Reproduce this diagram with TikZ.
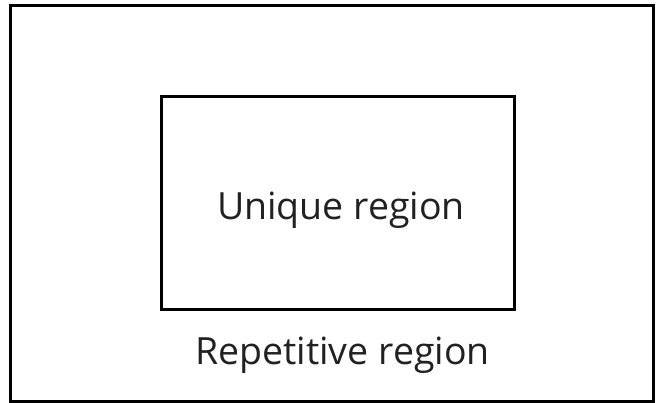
\documentclass[tikz,border=0pt]{standalone}
\usepackage{fontspec}
\setmainfont{Open Sans}
\begin{document}
\begin{tikzpicture}[x=1pt,y=-1pt,
  box/.style={draw=black,line width=3pt},
  lbl/.style={font=\fontsize{37.5}{44}\selectfont,text=black!87,inner sep=0pt,anchor=base}]
\useasboundingbox[fill=white] (0,0) rectangle (660,403);
\draw[box] (10.5,5.5) rectangle (653.5,401);
\draw[box] (161.5,96.5) rectangle (514.5,309.5);
\node[lbl] (u) at (341,219) {Unique region};
\node[lbl] (r) at (342.5,364) {Repetitive region};
\end{tikzpicture}
\end{document}
